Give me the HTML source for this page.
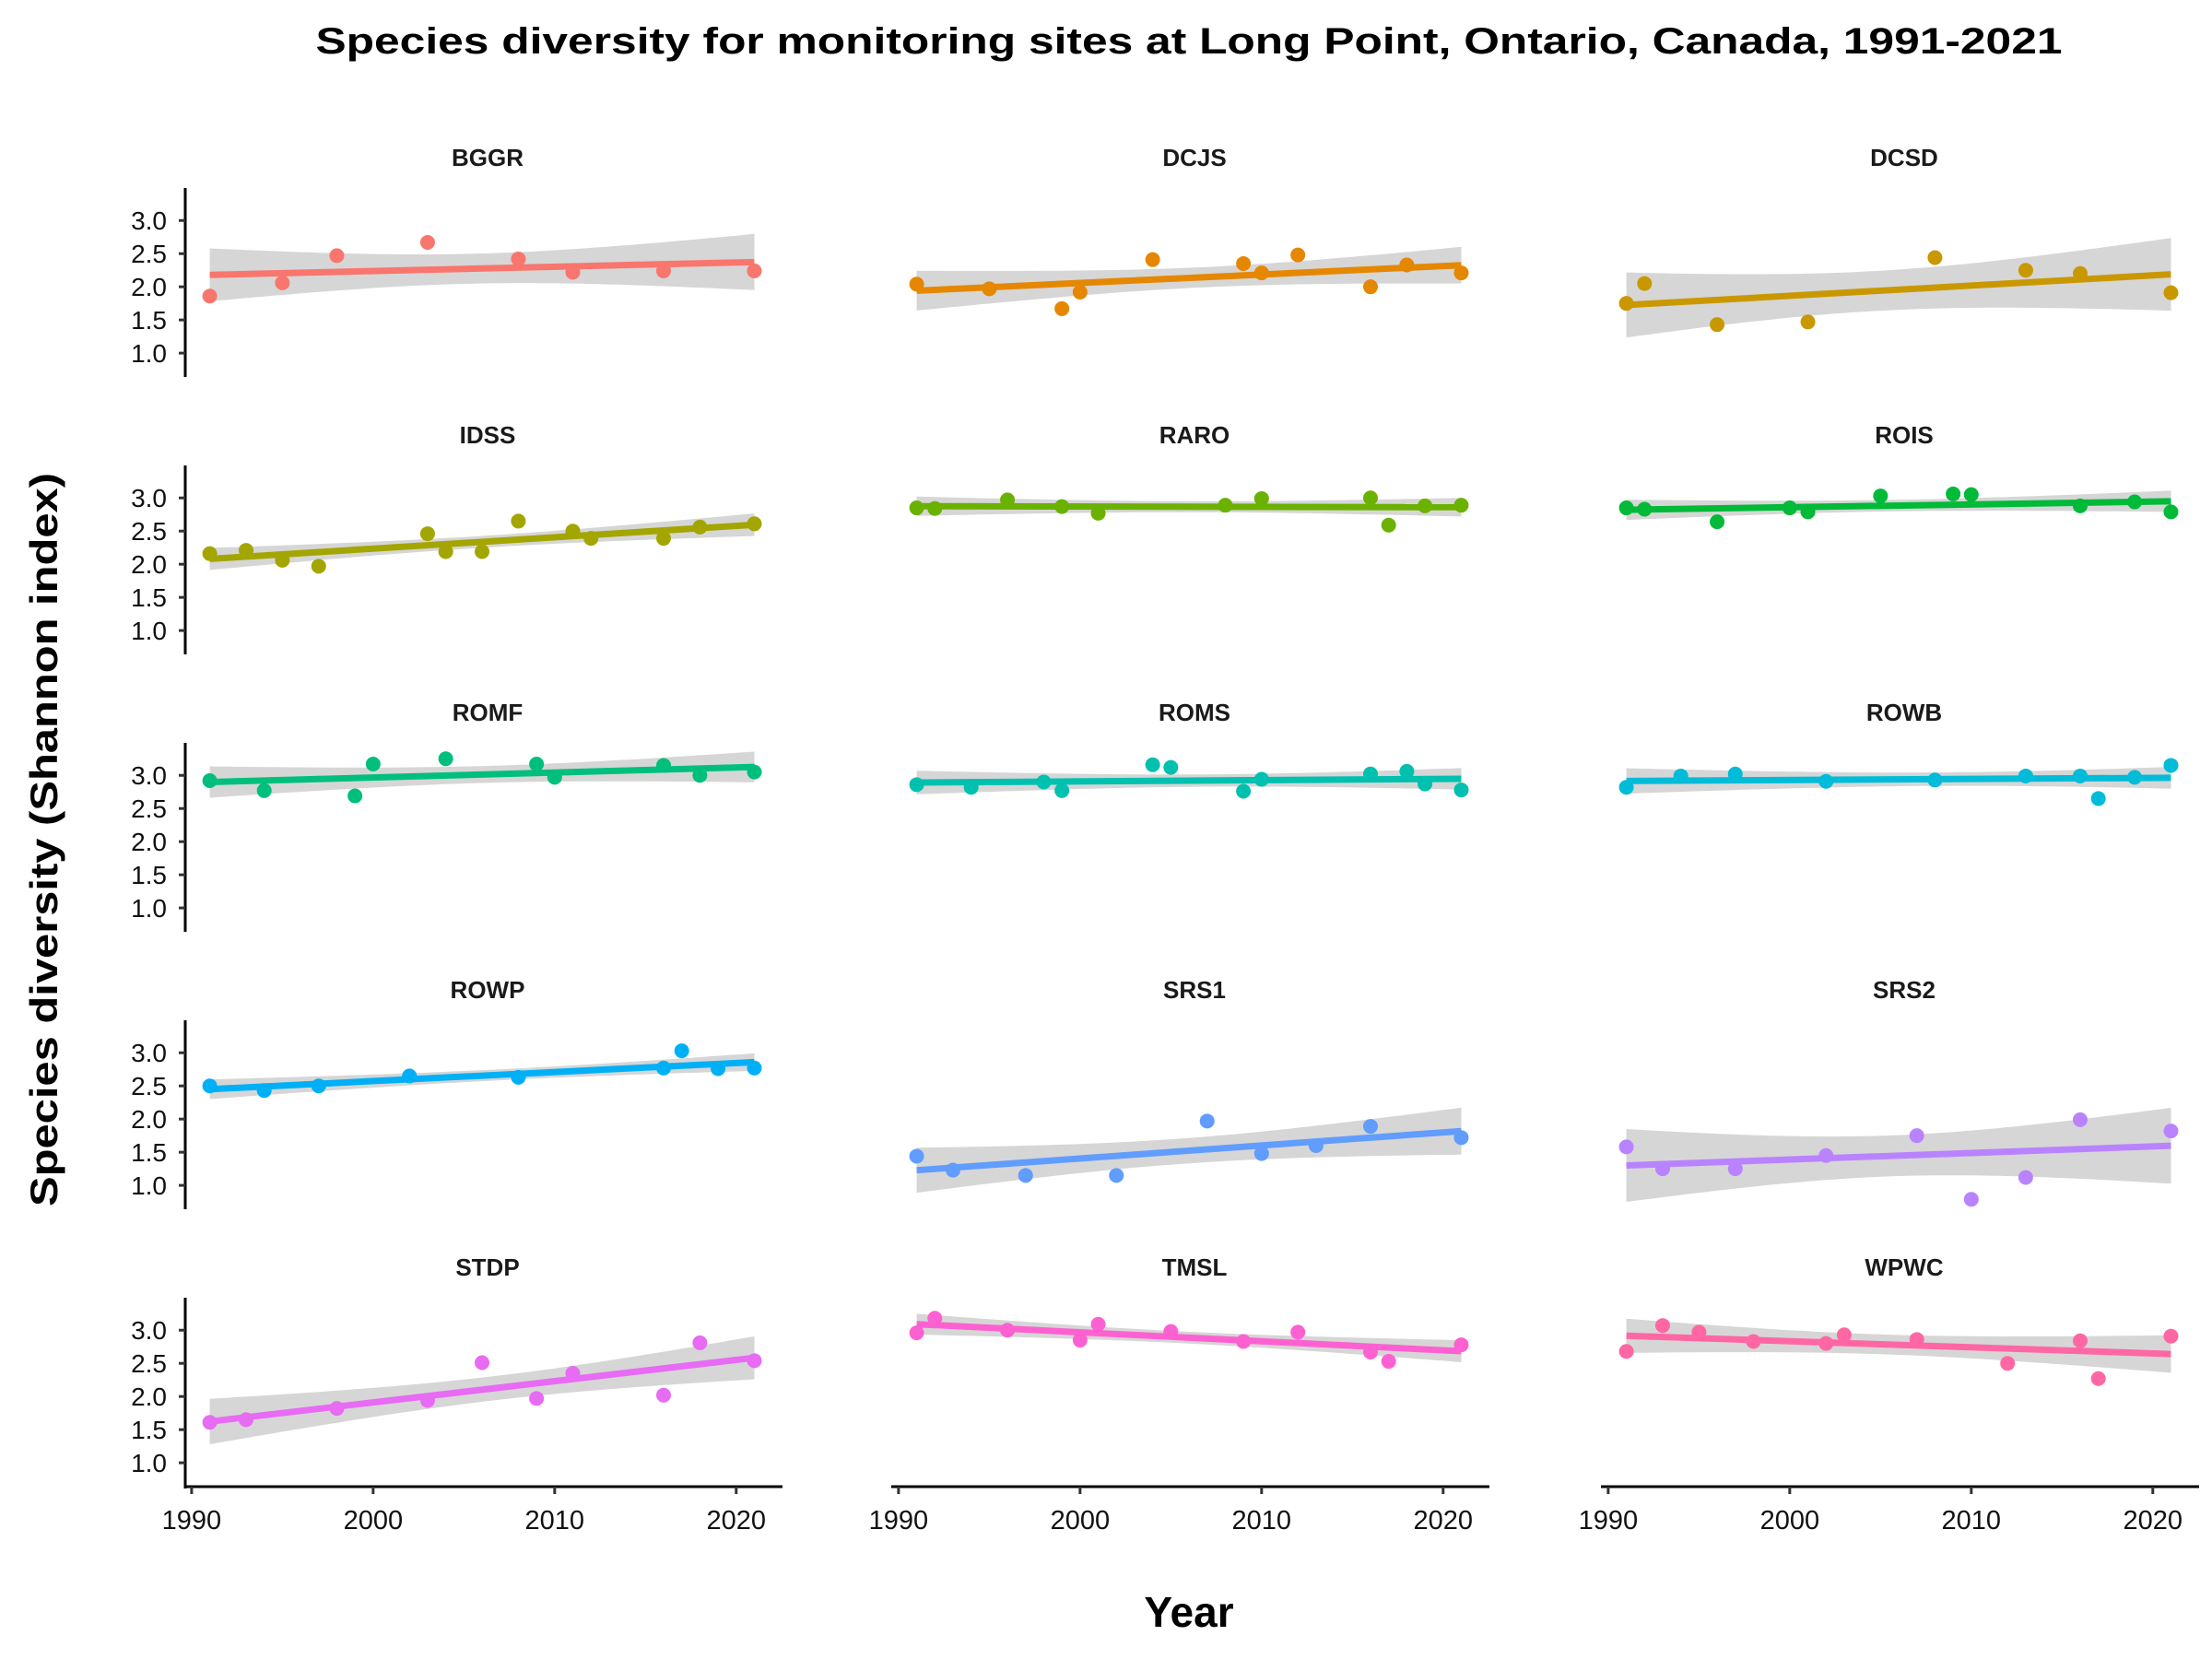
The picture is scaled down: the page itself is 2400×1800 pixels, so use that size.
<!DOCTYPE html>
<html><head><meta charset="utf-8">
<style>
html,body{margin:0;padding:0;background:#fff;}
svg{display:block;font-family:"Liberation Sans",Arial,sans-serif;}
</style></head>
<body>
<svg id="chart" width="2400" height="1800" viewBox="0 0 2400 1800" xmlns="http://www.w3.org/2000/svg">
<rect width="2400" height="1800" fill="#fff"/>
<text x="1290" y="58" text-anchor="middle" font-size="40" font-weight="bold" fill="#000" textLength="1895" lengthAdjust="spacingAndGlyphs">Species diversity for monitoring sites at Long Point, Ontario, Canada, 1991-2021</text>
<text transform="translate(62,911) rotate(-90)" text-anchor="middle" font-size="42" font-weight="bold" fill="#000" textLength="796" lengthAdjust="spacingAndGlyphs">Species diversity (Shannon index)</text>
<text x="1290" y="1765" text-anchor="middle" font-size="46" font-weight="bold" fill="#000">Year</text>
<g id="panels"></g>
</svg>
<script>
const sites = ["BGGR","DCJS","DCSD","IDSS","RARO","ROIS","ROMF","ROMS","ROWB","ROWP","SRS1","SRS2","STDP","TMSL","WPWC"];
const colors = ["#F8766D","#E58700","#C99800","#A3A500","#6BB100","#00BA38","#00BF7D","#00C0AF","#00BCD8","#00B0F6","#619CFF","#B983FF","#E76BF3","#FD61D1","#FF67A4"];
const yearsBGGR = [1991,1995,1998,2003,2008,2011,2016,2021];
const valsBGGR  = [1.86,2.06,2.47,2.67,2.42,2.22,2.24,2.24];
const yearsDCJS = [1991,1995,1999,2000,2004,2009,2010,2012,2016,2018,2021];
const valsDCJS  = [2.04,1.97,1.67,1.92,2.41,2.35,2.21,2.48,2.00,2.33,2.21];
const yearsDCSD = [1991,1992,1996,2001,2008,2013,2016,2021];
const valsDCSD  = [1.75,2.05,1.43,1.47,2.44,2.25,2.20,1.91];
const yearsIDSS = [1991,1993,1995,1997,2003,2004,2006,2008,2011,2012,2016,2018,2021];
const valsIDSS  = [2.16,2.21,2.06,1.97,2.46,2.19,2.19,2.65,2.50,2.39,2.39,2.56,2.61];
const yearsRARO = [1991,1992,1996,1999,2001,2008,2010,2016,2017,2019,2021];
const valsRARO  = [2.85,2.84,2.97,2.87,2.77,2.89,2.99,3.00,2.59,2.88,2.89];
const yearsROIS = [1991,1992,1996,2000,2001,2005,2009,2010,2016,2019,2021];
const valsROIS  = [2.85,2.83,2.64,2.85,2.79,3.03,3.06,3.05,2.88,2.94,2.79];
const yearsROMF = [1991,1994,1999,2000,2004,2009,2010,2016,2018,2021];
const valsROMF  = [2.92,2.77,2.69,3.17,3.25,3.17,2.97,3.15,3.00,3.05];
const yearsROMS = [1991,1994,1998,1999,2004,2005,2009,2010,2016,2018,2019,2021];
const valsROMS  = [2.86,2.82,2.90,2.77,3.16,3.12,2.76,2.94,3.02,3.06,2.87,2.78];
const yearsROWB = [1991,1994,1997,2002,2008,2013,2016,2017,2019,2021];
const valsROWB  = [2.82,2.99,3.02,2.91,2.93,2.99,2.99,2.65,2.97,3.15];
const yearsROWP = [1991,1994,1997,2002,2008,2016,2017,2019,2021];
const valsROWP  = [2.50,2.43,2.50,2.65,2.63,2.77,3.03,2.76,2.77];
const yearsSRS1 = [1991,1993,1997,2002,2007,2010,2013,2016,2021];
const valsSRS1  = [1.44,1.23,1.15,1.15,1.97,1.48,1.60,1.89,1.72];
const yearsSRS2 = [1991,1993,1997,2002,2007,2010,2013,2016,2021];
const valsSRS2  = [1.58,1.25,1.25,1.45,1.75,0.79,1.12,1.99,1.82];
const yearsSTDP = [1991,1993,1998,2003,2006,2009,2011,2016,2018,2021];
const valsSTDP  = [1.61,1.65,1.82,1.94,2.51,1.97,2.35,2.02,2.81,2.54];
const yearsTMSL = [1991,1992,1996,2000,2001,2005,2009,2012,2016,2017,2021];
const valsTMSL  = [2.96,3.18,3.00,2.85,3.09,2.98,2.83,2.97,2.67,2.53,2.78];
const yearsWPWC = [1991,1993,1995,1998,2002,2003,2007,2012,2016,2017,2021];
const valsWPWC  = [2.68,3.07,2.97,2.83,2.80,2.93,2.86,2.50,2.84,2.27,2.91];
const yTicks = [1.0,1.5,2.0,2.5,3.0];
const yTickLabels = ["1.0","1.5","2.0","2.5","3.0"];
const xTicks = [1990,2000,2010,2020];
const xTickLabels = ["1990","2000","2010","2020"];

const series = [
 [yearsBGGR,valsBGGR],[yearsDCJS,valsDCJS],[yearsDCSD,valsDCSD],
 [yearsIDSS,valsIDSS],[yearsRARO,valsRARO],[yearsROIS,valsROIS],
 [yearsROMF,valsROMF],[yearsROMS,valsROMS],[yearsROWB,valsROWB],
 [yearsROWP,valsROWP],[yearsSRS1,valsSRS1],[yearsSRS2,valsSRS2],
 [yearsSTDP,valsSTDP],[yearsTMSL,valsTMSL],[yearsWPWC,valsWPWC]];

const NS = "http://www.w3.org/2000/svg";
const root = document.getElementById("panels");
const colX = [201,968,1738];
const W = 648;
const XMIN = 1989.65, XMAX = 2022.55;
const YMIN = 0.64, YMAX = 3.49;
const tq = {4:2.776,5:2.571,6:2.447,7:2.365,8:2.306,9:2.262,10:2.228,11:2.201,12:2.179,13:2.160,14:2.145};

function mk(tag, attrs, parent){
  const e = document.createElementNS(NS, tag);
  for (const k in attrs) e.setAttribute(k, attrs[k]);
  parent.appendChild(e);
  return e;
}

sites.forEach((name, i) => {
  const col = i % 3, row = Math.floor(i / 3);
  const x0 = colX[col];
  const t3 = 239 + 301 * row;
  const top = t3 - 35, bottom = t3 + 170;
  const sx = v => x0 + (v - XMIN) / (XMAX - XMIN) * W;
  const sy = v => top + (YMAX - v) / (YMAX - YMIN) * (bottom - top);
  const g = mk("g", {}, root);
  
  

  const title = mk("text", {x: x0 + W/2 + 4, y: t3 - 59, "text-anchor":"middle", "font-size":"26", "font-weight":"bold", fill:"#1a1a1a"}, g);
  title.textContent = name;
  
  

  const xs = series[i][0], ys = series[i][1];
  const n = xs.length;
  const mx = xs.reduce((a,b)=>a+b,0)/n, my = ys.reduce((a,b)=>a+b,0)/n;
  let sxx = 0, sxy = 0;
  for (let k=0;k<n;k++){ sxx += (xs[k]-mx)**2; sxy += (xs[k]-mx)*(ys[k]-my); }
  const b = sxy/sxx, a = my - b*mx;
  let sse = 0;
  for (let k=0;k<n;k++){ sse += (ys[k]-a-b*xs[k])**2; }
  const s = Math.sqrt(sse/(n-2));
  const t = tq[n-2] || 2.0;
  const x1 = Math.min(...xs), x2 = Math.max(...xs);
  const up = [], lo = [];
  for (let k=0;k<=60;k++){
    const xv = x1 + (x2-x1)*k/60;
    const f = a + b*xv;
    const se = s*Math.sqrt(1/n + (xv-mx)**2/sxx);
    up.push(sx(xv).toFixed(1)+","+sy(f+t*se).toFixed(1));
    lo.unshift(sx(xv).toFixed(1)+","+sy(f-t*se).toFixed(1));
  }
  const band = mk("polygon", {points: up.concat(lo).join(" "), fill:"#D6D6D6"}, g);
  
  

  for (let k=0;k<n;k++){
    const c = mk("circle", {cx: sx(xs[k]), cy: sy(ys[k]), r: 8, fill: colors[i]}, g);
    
    
  }
  const ln = mk("line", {x1: sx(x1), y1: sy(a+b*x1), x2: sx(x2), y2: sy(a+b*x2), stroke: colors[i], "stroke-width": 7}, g);
  
  

  if (col === 0) {
    const ya = mk("line", {x1: x0, y1: top, x2: x0, y2: bottom + (row===4?2:0), stroke:"#000", "stroke-width":3}, g);
    
    
    yTicks.forEach((v, k) => {
      const tk = mk("line", {x1: x0-7, y1: sy(v), x2: x0, y2: sy(v), stroke:"#333", "stroke-width":3}, g);
      
      
      const tl = mk("text", {x: x0-20, y: sy(v)+10, "text-anchor":"end", "font-size":"28", fill:"#111"}, g);
      tl.textContent = yTickLabels[k];
      
      
    });
  }
  if (row === 4) {
    const xa = mk("line", {x1: x0 - 1, y1: bottom, x2: x0 + W, y2: bottom, stroke:"#000", "stroke-width":3}, g);
    
    
    xTicks.forEach((v, k) => {
      const tk = mk("line", {x1: sx(v), y1: bottom, x2: sx(v), y2: bottom+8, stroke:"#333", "stroke-width":3}, g);
      
      
      const tl = mk("text", {x: sx(v), y: bottom+46, "text-anchor":"middle", "font-size":"29", fill:"#111"}, g);
      tl.textContent = xTickLabels[k];
      
      
    });
  }
});
</script>
</body></html>
